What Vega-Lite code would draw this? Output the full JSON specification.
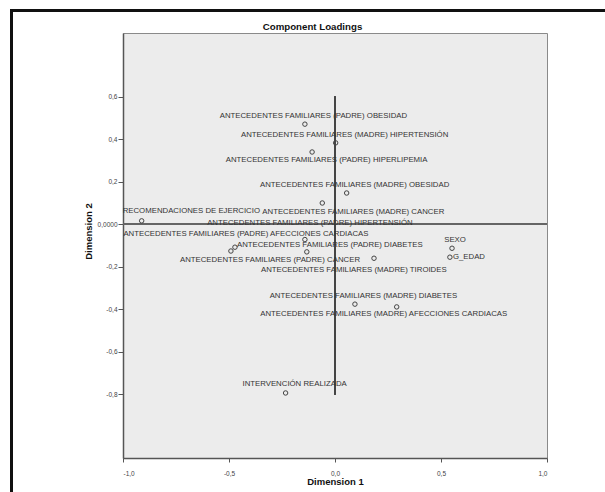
{
  "$schema": "https://vega.github.io/schema/vega-lite/v6.json",
  "autosize": "none",
  "width": 424,
  "height": 425,
  "padding": {"left": 123, "top": 33, "right": 58, "bottom": 34},
  "background": "white",
  "data": {"values": [
    {"k": 1, "label": "ANTECEDENTES FAMILIARES (PADRE) OBESIDAD", "x": -0.142, "y": 0.471},
    {"k": 2, "label": "ANTECEDENTES FAMILIARES (MADRE) HIPERTENSIÓN", "x": 0.003, "y": 0.383},
    {"k": 3, "label": "ANTECEDENTES FAMILIARES (PADRE) HIPERLIPEMIA", "x": -0.108, "y": 0.340},
    {"k": 4, "label": "ANTECEDENTES FAMILIARES (MADRE) OBESIDAD", "x": 0.055, "y": 0.147},
    {"k": 5, "label": "ANTECEDENTES FAMILIARES (MADRE) CANCER", "x": -0.060, "y": 0.100},
    {"k": 6, "label": "RECOMENDACIONES DE EJERCICIO", "x": -0.912, "y": 0.016},
    {"k": 7, "label": "ANTECEDENTES FAMILIARES (PADRE) HIPERTENSIÓN", "x": -0.142, "y": -0.072},
    {"k": 8, "label": "ANTECEDENTES FAMILIARES (PADRE) AFECCIONES CARDIACAS", "x": -0.491, "y": -0.126},
    {"k": 9, "label": "ANTECEDENTES FAMILIARES (PADRE) DIABETES", "x": -0.472, "y": -0.108},
    {"k": 10, "label": "ANTECEDENTES FAMILIARES (PADRE) CANCER", "x": 0.184, "y": -0.160},
    {"k": 11, "label": "ANTECEDENTES FAMILIARES (MADRE) TIROIDES", "x": -0.133, "y": -0.130},
    {"k": 12, "label": "SEXO", "x": 0.552, "y": -0.113},
    {"k": 13, "label": "G_EDAD", "x": 0.542, "y": -0.155},
    {"k": 14, "label": "ANTECEDENTES FAMILIARES (MADRE) DIABETES", "x": 0.094, "y": -0.376},
    {"k": 15, "label": "ANTECEDENTES FAMILIARES (MADRE) AFECCIONES CARDIACAS", "x": 0.291, "y": -0.389},
    {"k": 16, "label": "INTERVENCIÓN REALIZADA", "x": -0.233, "y": -0.794}
  ]},
  "resolve": {"axis": {"x": "independent"}},
  "layer": [
    {"mark": {"type": "rule", "color": "#111", "strokeWidth": 2.5},
     "encoding": {"y": {"datum": 1.007, "type": "quantitative"}, "x": {"datum": -1.533, "type": "quantitative", "axis": null}, "x2": {"datum": 1.35}}},
    {"mark": {"type": "rule", "color": "#111", "strokeWidth": 2.5},
     "encoding": {"x": {"datum": -1.527, "type": "quantitative", "axis": null}, "y": {"datum": 1.013, "type": "quantitative"}, "y2": {"datum": -1.35}}},
    {"mark": {"type": "rule", "color": "#666", "strokeWidth": 1},
     "encoding": {"y": {"datum": 0, "type": "quantitative"}}},
    {"mark": {"type": "rule", "color": "#444", "strokeWidth": 1.5},
     "encoding": {"x": {"datum": 0, "type": "quantitative", "axis": null}, "y": {"datum": 0.6, "type": "quantitative"}, "y2": {"datum": -0.8}}},
    {"mark": {"type": "point", "shape": "circle", "filled": false, "size": 20, "stroke": "#444", "strokeWidth": 1, "opacity": 1},
     "encoding": {
       "x": {"field": "x", "type": "quantitative", "scale": {"domain": [-1, 1], "nice": false, "zero": false},
             "axis": {"title": "Dimension 1", "values": [-1, -0.5, 0, 0.5, 1], "labelExpr": "(datum.value < 0 ? '-' : '') + replace(format(abs(datum.value), '.1f'), '.', ',')", "grid": false, "tickSize": 4, "labelPadding": 8, "titleY": 23, "titleBaseline": "middle"}},
       "y": {"field": "y", "type": "quantitative", "scale": {"domain": [-1.1, 0.9], "nice": false, "zero": false},
             "axis": {"title": "Dimension 2", "values": [-0.8, -0.6, -0.4, -0.2, 0, 0.2, 0.4, 0.6], "labelExpr": "datum.value == 0 ? '0,0000' : (datum.value < 0 ? '-' : '') + replace(format(abs(datum.value), '.1f'), '.', ',')", "grid": false, "tickSize": 5, "labelPadding": 1, "titleX": -35, "titleY": 198, "titleAngle": 270, "titleAlign": "center", "titleBaseline": "middle"}}
     }},
    {"transform": [{"filter": "datum.k == 1"}], "mark": {"type": "text", "dx": 8.5, "dy": -8}, "encoding": {"x": {"field": "x", "type": "quantitative", "axis": {"orient": "top", "title": "Component Loadings", "labels": false, "ticks": false, "domain": false, "grid": false, "titleX": 189, "titleY": -7, "titleAlign": "center", "titleBaseline": "middle", "titleFontSize": 9.7}}, "y": {"field": "y", "type": "quantitative"}, "text": {"field": "label"}}},
    {"transform": [{"filter": "datum.k == 2"}], "mark": {"type": "text", "dx": 9, "dy": -8}, "encoding": {"x": {"field": "x", "type": "quantitative", "axis": null}, "y": {"field": "y", "type": "quantitative"}, "text": {"field": "label"}}},
    {"transform": [{"filter": "datum.k == 3"}], "mark": {"type": "text", "dx": 14.5, "dy": 8}, "encoding": {"x": {"field": "x", "type": "quantitative", "axis": null}, "y": {"field": "y", "type": "quantitative"}, "text": {"field": "label"}}},
    {"transform": [{"filter": "datum.k == 4"}], "mark": {"type": "text", "dx": 8, "dy": -8}, "encoding": {"x": {"field": "x", "type": "quantitative", "axis": null}, "y": {"field": "y", "type": "quantitative"}, "text": {"field": "label"}}},
    {"transform": [{"filter": "datum.k == 5"}], "mark": {"type": "text", "dx": 31, "dy": 9}, "encoding": {"x": {"field": "x", "type": "quantitative", "axis": null}, "y": {"field": "y", "type": "quantitative"}, "text": {"field": "label"}}},
    {"transform": [{"filter": "datum.k == 6"}], "mark": {"type": "text", "align": "left", "dx": -19, "dy": -9.5}, "encoding": {"x": {"field": "x", "type": "quantitative", "axis": null}, "y": {"field": "y", "type": "quantitative"}, "text": {"field": "label"}}},
    {"transform": [{"filter": "datum.k == 7"}], "mark": {"type": "text", "dx": 5, "dy": -16.5}, "encoding": {"x": {"field": "x", "type": "quantitative", "axis": null}, "y": {"field": "y", "type": "quantitative"}, "text": {"field": "label"}}},
    {"transform": [{"filter": "datum.k == 8"}], "mark": {"type": "text", "dx": 15, "dy": -17.4}, "encoding": {"x": {"field": "x", "type": "quantitative", "axis": null}, "y": {"field": "y", "type": "quantitative"}, "text": {"field": "label"}}},
    {"transform": [{"filter": "datum.k == 9"}], "mark": {"type": "text", "align": "left", "dx": 2, "dy": -2.7}, "encoding": {"x": {"field": "x", "type": "quantitative", "axis": null}, "y": {"field": "y", "type": "quantitative"}, "text": {"field": "label"}}},
    {"transform": [{"filter": "datum.k == 10"}], "mark": {"type": "text", "align": "right", "dx": -14, "dy": 2}, "encoding": {"x": {"field": "x", "type": "quantitative", "axis": null}, "y": {"field": "y", "type": "quantitative"}, "text": {"field": "label"}}},
    {"transform": [{"filter": "datum.k == 11"}], "mark": {"type": "text", "dx": 47, "dy": 18}, "encoding": {"x": {"field": "x", "type": "quantitative", "axis": null}, "y": {"field": "y", "type": "quantitative"}, "text": {"field": "label"}}},
    {"transform": [{"filter": "datum.k == 12"}], "mark": {"type": "text", "dx": 3, "dy": -8}, "encoding": {"x": {"field": "x", "type": "quantitative", "axis": null}, "y": {"field": "y", "type": "quantitative"}, "text": {"field": "label"}}},
    {"transform": [{"filter": "datum.k == 13"}], "mark": {"type": "text", "align": "left", "dx": 3, "dy": 0}, "encoding": {"x": {"field": "x", "type": "quantitative", "axis": null}, "y": {"field": "y", "type": "quantitative"}, "text": {"field": "label"}}},
    {"transform": [{"filter": "datum.k == 14"}], "mark": {"type": "text", "dx": 8.5, "dy": -8}, "encoding": {"x": {"field": "x", "type": "quantitative", "axis": null}, "y": {"field": "y", "type": "quantitative"}, "text": {"field": "label"}}},
    {"transform": [{"filter": "datum.k == 15"}], "mark": {"type": "text", "dx": -13, "dy": 7.5}, "encoding": {"x": {"field": "x", "type": "quantitative", "axis": null}, "y": {"field": "y", "type": "quantitative"}, "text": {"field": "label"}}},
    {"transform": [{"filter": "datum.k == 16"}], "mark": {"type": "text", "dx": 9, "dy": -8.7}, "encoding": {"x": {"field": "x", "type": "quantitative", "axis": null}, "y": {"field": "y", "type": "quantitative"}, "text": {"field": "label"}}}
  ],
  "config": {
    "view": {"fill": "#ececec", "stroke": "#8a8a8a", "strokeWidth": 1},
    "text": {"font": "Liberation Sans", "fontSize": 7.8, "color": "#333", "baseline": "middle"},
    "axis": {"domainColor": "#555", "domainWidth": 1.5, "tickColor": "#555", "tickWidth": 1, "labelFont": "Liberation Sans", "labelFontSize": 6.5, "labelColor": "#444", "titleFont": "Liberation Sans", "titleFontSize": 9.5, "titleFontWeight": "bold", "titleColor": "#111"}
  }
}
